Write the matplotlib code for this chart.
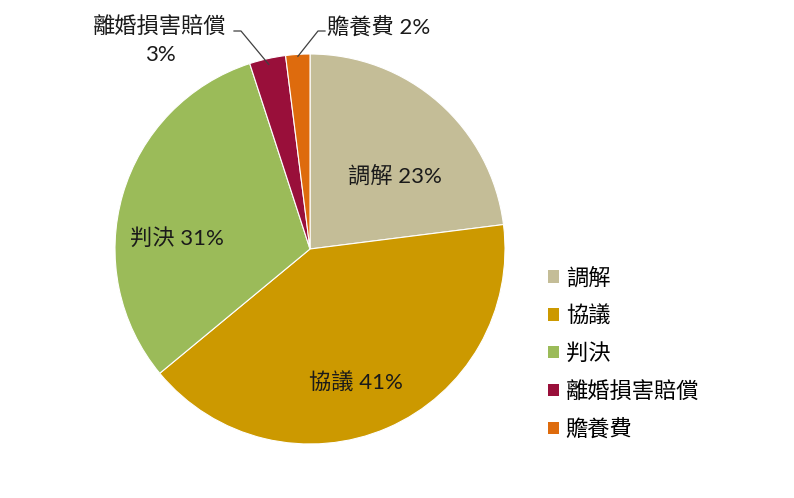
import matplotlib
matplotlib.use("Agg")
import matplotlib.pyplot as plt
import numpy as np

plt.rcParams['font.family'] = ['Lato', 'Noto Sans CJK TC', 'DejaVu Sans']

categories = ['調解', '協議', '判決', '離婚損害賠償', '贍養費']
shares = [23, 41, 31, 3, 2]
colors = ['#C4BD97', '#CC9900', '#9BBB59', '#990F3A', '#DE6B0D']

W, H = 794, 498
fig = plt.figure(figsize=(W / 100, H / 100), dpi=100)
ax = fig.add_axes([0, 0, 1, 1])

cx, cy, r = 310, H - 249, 195
wedges, _ = ax.pie(shares, colors=colors, startangle=90, counterclock=False,
                   center=(cx, cy), radius=r, frame=True,
                   wedgeprops=dict(edgecolor='white', linewidth=0.8))
ax.set_xlim(0, W)
ax.set_ylim(0, H)
ax.set_aspect('equal')
ax.axis('off')

fs = 16
tc = '#1a1a1a'

def lbl(i):
    return f'{categories[i]} {shares[i]}%'

# labels inside the large slices
ax.text(395, H - 176, lbl(0), ha='center', va='center', fontsize=fs, color=tc)
ax.text(356, H - 382, lbl(1), ha='center', va='center', fontsize=fs, color=tc)
ax.text(177, H - 238, lbl(2), ha='center', va='center', fontsize=fs, color=tc)

# labels outside the two thin slices, with leader lines
def wedge_mid(w, frac=1.0):
    ang = np.deg2rad((w.theta1 + w.theta2) / 2)
    return cx + r * frac * np.cos(ang), cy + r * frac * np.sin(ang)

x3, y3 = wedge_mid(wedges[3], 0.97)
ax.plot([x3, 241, 234], [y3, H - 31, H - 31], color='#404040', lw=0.9)
ax.text(160, H - 26, categories[3], ha='center', va='center', fontsize=fs, color=tc)
ax.text(160, H - 55, f'{shares[3]}%', ha='center', va='center', fontsize=fs, color=tc)

x4, y4 = wedge_mid(wedges[4], 0.99)
ax.plot([x4, 318, 325], [y4, H - 31, H - 31], color='#404040', lw=0.9)
ax.text(327, H - 27, lbl(4), ha='left', va='center', fontsize=fs, color=tc)

leg = ax.legend(wedges, categories, loc='upper left', bbox_to_anchor=(548 / W, 1 - 267 / H),
                bbox_transform=fig.transFigure, frameon=False, fontsize=fs,
                handlelength=0.5, handleheight=0.5, handletextpad=0.3,
                labelspacing=0.76, borderpad=0, borderaxespad=0)
for h in leg.legend_handles:
    h.set_edgecolor('none')

fig.savefig('out.png', dpi=100, facecolor='white')
